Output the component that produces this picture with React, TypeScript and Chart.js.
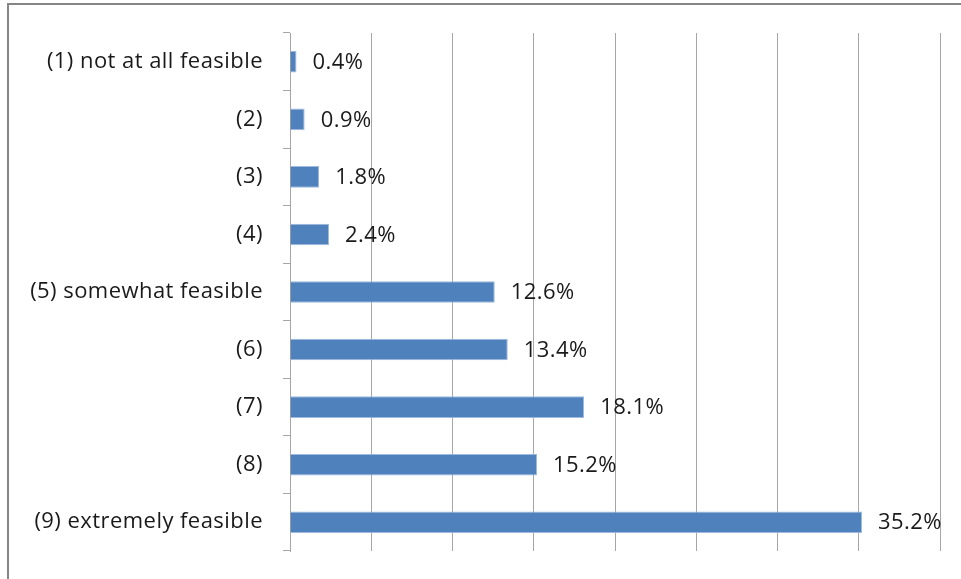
import React, { useEffect, useRef } from "react";
import { Chart, registerables } from "chart.js";

Chart.register(...registerables);

const categories = [
  "(1) not at all feasible",
  "(2)",
  "(3)",
  "(4)",
  "(5) somewhat feasible",
  "(6)",
  "(7)",
  "(8)",
  "(9) extremely feasible",
];
const values = [0.4, 0.9, 1.8, 2.4, 12.6, 13.4, 18.1, 15.2, 35.2];
const xMax = 40;
const xStep = 5;

const FONT = "'Open Sans', sans-serif";
const FSIZE = 22;

export default function App() {
  const ref = useRef<HTMLCanvasElement | null>(null);
  useEffect(() => {
    if (!ref.current) return;
    const frame = {
      id: "frame",
      beforeDraw(chart: any) {
        const ctx = chart.ctx;
        (ctx as any).letterSpacing = "0.45px";
        ctx.save();
        ctx.fillStyle = "#ffffff";
        ctx.fillRect(0, 0, chart.width, chart.height);
        ctx.strokeStyle = "#868686";
        ctx.lineWidth = 2;
        ctx.strokeRect(8, 4, 2000, 2000);
        ctx.restore();
      },
    };
    const labels = {
      id: "valLabels",
      afterDatasetsDraw(chart: any) {
        const ctx = chart.ctx;
        const meta = chart.getDatasetMeta(0);
        ctx.save();
        (ctx as any).letterSpacing = "0.45px";
        ctx.font = `${FSIZE}px ${FONT}`;
        ctx.fillStyle = "#1a1a1a";
        ctx.textAlign = "left";
        ctx.textBaseline = "middle";
        meta.data.forEach((bar: any, i: number) => {
          ctx.fillText(values[i].toFixed(1) + "%", bar.x + 16, bar.y + 1);
        });
        ctx.restore();
      },
    };
    const chart = new Chart(ref.current, {
      type: "bar",
      data: {
        labels: categories,
        datasets: [
          {
            data: values,
            backgroundColor: "#4F81BD",
            borderColor: "#9DB9DD",
            borderWidth: 1,
            barPercentage: 0.75,
            categoryPercentage: 0.5,
          },
        ],
      },
      options: {
        indexAxis: "y",
        animation: false,
        responsive: false,
        layout: { padding: { left: 0, top: 33, right: 21, bottom: 28 } },
        plugins: { legend: { display: false }, tooltip: { enabled: false } },
        scales: {
          x: {
            min: 0,
            max: xMax,
            ticks: { display: false, stepSize: xStep },
            grid: { color: "#A6A6A6", lineWidth: 1, drawTicks: false },
            border: { display: false },
            afterFit: (s: any) => {
              s.height = 0;
              s.paddingLeft = 0;
              s.paddingRight = 0;
            },
          },
          y: {
            grid: {
              drawOnChartArea: false,
              drawTicks: true,
              tickLength: 7,
              color: "#A6A6A6",
              offset: true,
            },
            border: { display: true, color: "#A6A6A6", width: 1 },
            ticks: {
              padding: 20,
              color: "#1a1a1a",
              font: { family: FONT, size: FSIZE },
              autoSkip: false,
            },
            afterFit: (s: any) => {
              s.width = 290;
              s.paddingTop = 0;
              s.paddingBottom = 0;
            },
          },
        },
      },
      plugins: [frame, labels],
    });
    return () => chart.destroy();
  }, []);
  return (
    <div style={{ position: "fixed", left: 0, top: 0, width: 961, height: 579, background: "#fff" }}>
      <canvas ref={ref} width={961} height={579} style={{ display: "block" }} />
    </div>
  );
}
